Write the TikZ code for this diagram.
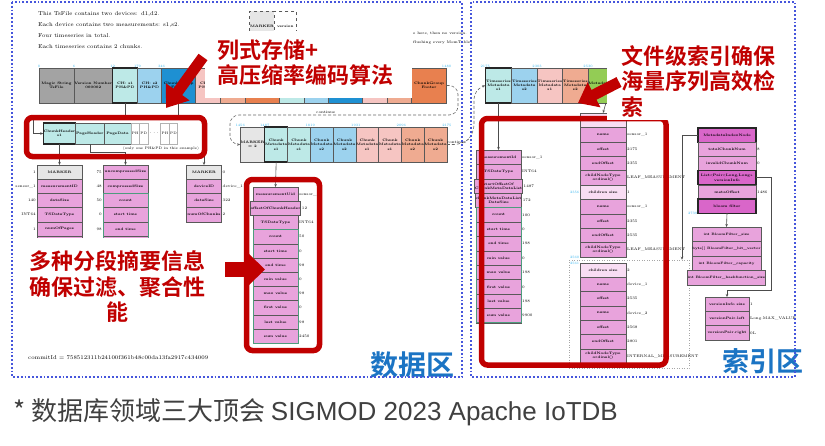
\documentclass[tikz,border=0pt]{standalone}
\usepackage{fontspec}
\newfontfamily\cjk{Noto Sans CJK SC}[BoldFont={Noto Sans CJK SC Bold}]
\newfontfamily\lsans{Liberation Sans}
\usepackage{tikz}
\usetikzlibrary{positioning,arrows.meta}

\definecolor{grayb}{HTML}{A3A3A3}
\definecolor{graylt}{HTML}{E6E6E6}
\definecolor{cyanlt}{HTML}{BDE9E7}
\definecolor{bluelt}{HTML}{9CD2EE}
\definecolor{bluedk}{HTML}{1E90D2}
\definecolor{pinklt}{HTML}{F6C5C2}
\definecolor{salmon}{HTML}{EFAB91}
\definecolor{orangeft}{HTML}{E8804F}
\definecolor{greenidx}{HTML}{93CC55}
\definecolor{orchid}{HTML}{E8A3DC}
\definecolor{orchiddk}{HTML}{D966C9}
\definecolor{orchidlt}{HTML}{F8DDF3}
\definecolor{statgreen}{HTML}{4E9C7E}
\definecolor{hlred}{HTML}{C00000}
\definecolor{zoneblue}{HTML}{1B74C4}
\definecolor{dotblue}{HTML}{4656DC}
\definecolor{ofscyan}{HTML}{33B5F0}

\begin{document}
\begin{tikzpicture}[x=1pt, y=-1pt,
        cell/.style={rectangle, draw=black!65, line width=0.6pt, inner sep=0.3pt, outer sep=0pt, align=center, font=\fontsize{3.5}{4.3}\selectfont\bfseries, minimum height=35pt},
        hot/.style={draw=black!85, line width=1.2pt},
        ghost/.style={cell, draw=black!30, minimum width=8.5pt, minimum height=21pt, font=\fontsize{3.5}{4}\selectfont},
        field/.style={cell, anchor=north, minimum height=14.2pt},
        plainrow/.style={fill=orchid},
        literow/.style={fill=orchidlt},
        darkrow/.style={fill=orchiddk, hot},
        markrow/.style={fill=graylt},
        val/.style={inner sep=1pt, font=\fontsize{3.8}{4.4}\selectfont},
        ofs/.style={inner sep=0.5pt, font=\fontsize{3.4}{4}\selectfont, text=ofscyan, anchor=south},
        link/.style={-{Stealth[length=3pt,width=2.5pt]}, draw=black!70, line width=0.6pt},
        flow/.style={draw=black!60, dash pattern=on 3pt off 2pt, line width=0.6pt, rounded corners=9pt, -{Stealth[length=3pt,width=2.5pt]}},
        stat/.style={draw=statgreen, line width=0.9pt},
        redframe/.style={draw=hlred, line width=5.5pt, rounded corners=6pt},
        redtag/.style={font=\cjk\bfseries\fontsize{22}{25.5}\selectfont, text=hlred, inner sep=0},
        zone/.style={font=\cjk\bfseries\fontsize{28}{30}\selectfont, text=zoneblue, inner sep=0},
        panel/.style={draw=dotblue, line width=1.8pt, dash pattern=on 1.8pt off 2pt}
    ]
    \useasboundingbox (0,0) rectangle (825,445);
    \fill[white] (0,0) rectangle (825,445);

    % data area: header text
    \node[anchor=north west, align=left, inner sep=0, font=\fontsize{5.6}{11}\selectfont] (desc) at (38,11.5) {This TsFile contains two devices: d1,d2.\\Each device contains two measurements: s1,s2.\\Four timeseries in total.\\Each timeseries contains 2 chunks.};
    \node[cell, dashed, fill=graylt, minimum width=22pt, minimum height=30pt] (vmark) at (262,26) {MARKER};
    \node[cell, dashed, minimum width=22pt, minimum height=30pt, right=0pt of vmark] (vver) {version};
    \node[val, anchor=west] (vnoteA) at (412,34) {e here, then no version.};
    \node[val, anchor=west] (vnoteB) at (412,43) {flushing every MemTable)};

    % data area: byte row
    \node[cell, fill=grayb, minimum width=35pt] (magic) at (56.5,85.5) {Magic String\\TsFile};
    \node[cell, fill=grayb, minimum width=35pt, right=0pt of magic] (vnum) {Version Number\\000002};
    \node[cell, hot, fill=cyanlt, minimum width=25pt, right=0pt of vnum] (chA) {CH: s1\\PH\&PD};
    \node[cell, fill=bluelt, minimum width=24pt, right=0pt of chA] (chB) {CH: s2\\PH\&PD};
    \node[cell, fill=bluedk, minimum width=34pt, right=0pt of chB] (cgfA) {ChunkGroup\\Footer};
    \node[cell, fill=pinklt, minimum width=25pt, right=0pt of cgfA] (chC) {CH: s1\\PH\&PD};
    \node[cell, fill=salmon, minimum width=25pt, right=0pt of chC] (chD) {};
    \node[cell, fill=orangeft, minimum width=34pt, right=0pt of chD] (cgfB) {};
    \node[cell, fill=cyanlt, minimum width=25pt, right=0pt of cgfB] (chE) {};
    \node[cell, fill=bluelt, minimum width=24pt, right=0pt of chE] (chF) {};
    \node[cell, fill=bluedk, minimum width=34pt, right=0pt of chF] (cgfC) {};
    \node[cell, fill=pinklt, minimum width=25pt, right=0pt of cgfC] (chG) {};
    \node[cell, fill=salmon, minimum width=24pt, right=0pt of chG] (chH) {};
    \node[cell, fill=orangeft, minimum width=35pt, right=0pt of chH] (cgfD) {ChunkGroup\\Footer};
    \node[ofs] (oA) at (magic.north west) {0};
    \node[ofs] (oB) at (vnum.north west) {6};
    \node[ofs] (oC) at (chA.north west) {12};
    \node[ofs] (oD) at (chB.north west) {179};
    \node[ofs] (oE) at (cgfA.north west) {346};
    \node[ofs] (oF) at (cgfD.north east) {1480};

    % data area: one chunk
    \node[cell, hot, fill=cyanlt, minimum width=27pt, minimum height=21pt] (chdr) at (59.5,133.5) {ChunkHeader\\s1};
    \node[cell, fill=cyanlt, minimum width=28pt, minimum height=21pt, right=0pt of chdr] (phdr) {PageHeader};
    \node[cell, fill=cyanlt, minimum width=27pt, minimum height=21pt, right=0pt of phdr] (pdat) {PageData};
    \node[ghost, right=0pt of pdat] (phA) {PH};
    \node[ghost, right=0pt of phA] (pdA) {PD};
    \node[inner sep=0, font=\fontsize{4}{4}\selectfont, right=1.5pt of pdA] (gap) {$\cdots$};
    \node[ghost, right=1.5pt of gap] (phB) {PH};
    \node[ghost, right=0pt of phB] (pdB) {PD};
    \node[val, font=\fontsize{3.6}{4}\selectfont] (only) at (161,148.5) {(only one PH\&PD in this example)};

    % data area: chunk header / page header / chunk group footer
    \foreach \lab/\val/\st [count=\i from 0] in {MARKER/1/markrow, measurementID/sensor\_1/plainrow, dataSize/140/plainrow, TSDataType/INT64/plainrow, numOfPages/1/plainrow, compressionType//plainrow} {
        \node[field, \st, minimum width=45pt] (ta\i) at (59.5,{165+14.2*\i}) {\lab};
        \node[val, anchor=east] (va\i) at (ta\i.west) {\val};
    }
    \foreach \lab/\val [count=\i from 0] in {uncompressedSize/75, compressedSize/48, count/50, start time/0, end time/98, min value/0} {
        \node[field, plainrow, minimum width=45pt] (tb\i) at (125.5,{165+14.2*\i}) {\lab};
        \node[val, anchor=east] (vb\i) at (tb\i.west) {\val};
    }
    \draw[stat] (tb2.north west) rectangle (tb5.south east);
    \foreach \lab/\val/\st [count=\i from 0] in {MARKER/0/markrow, deviceID/device\_1/plainrow, dataSize/322/plainrow, numOfChunks/2/plainrow} {
        \node[field, \st, minimum width=35pt] (tc\i) at (204,{165+14.2*\i}) {\lab};
        \node[val, anchor=west] (vc\i) at (tc\i.east) {\val};
    }
    \draw[link] (chA.south) |- (33,117) |- (chdr.west);
    \draw[link] (cgfA.south) |- (204,117) -- (tc0.north);
    \draw[link] (chdr.south) -- (ta0.north);
    \draw[link] (phdr.south) |- (125.5,152) -- (tb0.north);

    % data area: chunk metadata row
    \node[cell, fill=graylt, minimum width=23pt] (cm0) at (252.5,144.5) {MARKER\\= 2};
    \node[cell, hot, fill=cyanlt, minimum width=20.75pt, right=0pt of cm0] (cm1) {Chunk\\Metadata\\s1};
    \foreach \c/\s [count=\i from 2] in {cyanlt/s1, bluelt/s2, bluelt/s2, pinklt/s1, pinklt/s1, salmon/s2, salmon/s2} {
        \pgfmathtruncatemacro\j{\i-1}
        \node[cell, fill=\c, minimum width=20.75pt, right=0pt of cm\j] (cm\i) {Chunk\\Metadata\\\s};
    }
    \node[ofs] (oG) at (cm0.north west) {1456};
    \node[ofs] (oH) at (cm1.north west) {1487};
    \node[ofs] (oI) at (cm3.north west) {1819};
    \node[ofs] (oJ) at (cm5.north west) {1931};
    \node[ofs] (oK) at (cm7.north west) {2096};
    \node[ofs] (oL) at (cm8.north east) {2175};
    \draw[flow] (cgfD.east) -- (458,85.5) -- (458,115) -- node[val, above, pos=0.58] (contA) {continue} (230,115) -- (230,144.5) -- (cm0.west);
    \foreach \lab/\val [count=\i from 0] in {measurementUid/sensor\_1, offsetOfChunkHeader/12, TSDataType/INT64, count/50, start time/0, end time/98, min value/0, max value/98, first value/0, last value/98, sum value/2450} {
        \node[field, plainrow, minimum width=45pt] (td\i) at (275.5,{187+14.2*\i}) {\lab};
        \node[val, anchor=west] (vd\i) at (td\i.east) {\val};
    }
    \draw[stat] (td3.north west) rectangle (td10.south east);
    \draw[link] (cm1.south) -- (td0.north);

    % index area: timeseries metadata row
    \node[cell, hot, fill=cyanlt, minimum width=26.5pt] (tsm1) at (498.5,85.5) {Timeseries\\Metadata\\s1};
    \node[cell, fill=bluelt, minimum width=25pt, right=0pt of tsm1] (tsm2) {Timeseries\\Metadata\\s2};
    \node[cell, fill=pinklt, minimum width=25.5pt, right=0pt of tsm2] (tsm3) {Timeseries\\Metadata\\s1};
    \node[cell, fill=salmon, minimum width=25.5pt, right=0pt of tsm3] (tsm4) {Timeseries\\Metadata\\s2};
    \node[cell, fill=greenidx, minimum width=30pt, right=0pt of tsm4] (mnode) {MetadataIndex\\Node};
    \node[ofs] (oM) at (tsm1.north west) {2175};
    \node[ofs] (oN) at (tsm3.north west) {2303};
    \node[ofs] (oP) at (mnode.north west) {2530};
    \draw[flow] (cm8.east) -- node[val, above, pos=0.6] (contB) {continue} (463,144.5) -- (474,134) -- (474,90) -- (tsm1.west);

    \foreach \lab/\val [count=\i from 0] in {measurementId/sensor\_1, TSDataType/INT64, {startOffsetOf\\ChunkMetaDataList}/1487, {chunkMetaDataList\\DataSize}/172, count/100, start time/0, end time/198, min value/0, max value/198, first value/0, last value/198, sum value/9900} {
        \node[field, plainrow, minimum width=45pt, minimum height=14.4pt] (te\i) at (498.5,{150+14.4*\i}) {\lab};
        \node[val, anchor=west] (ve\i) at (te\i.east) {\val};
    }
    \draw[stat] (te4.north west) rectangle (te11.south east);
    \draw[link] (tsm1.south) -- (te0.north);

    \node[draw=black!35, dotted, line width=0.5pt, minimum width=120pt, minimum height=108pt, inner sep=0] (devnode) at (629,314) {};
    \foreach \lab/\val/\st [count=\i from 0] in {children size//literow, name/sensor\_1/plainrow, offset/2175/plainrow, endOffset/2355/plainrow, {childNodeType\\ordinal()}/LEAF\_MEASUREMENT/plainrow, children size/1/literow, name/sensor\_1/plainrow, offset/2355/plainrow, endOffset/2535/plainrow, {childNodeType\\ordinal()}/LEAF\_MEASUREMENT/plainrow} {
        \node[field, \st, minimum width=46pt, minimum height=14.4pt] (tf\i) at (603,{113+14.4*\i}) {\lab};
        \node[val, anchor=west] (vf\i) at (tf\i.east) {\val};
    }
    \foreach \lab/\val/\st [count=\i from 0] in {children size/2/literow, name/device\_1/plainrow, offset/2535/plainrow, name/device\_2/plainrow, offset/2568/plainrow, endOffset/2801/plainrow, {childNodeType\\ordinal()}/INTERNAL\_MEASUREMENT/plainrow} {
        \node[field, \st, minimum width=46pt, minimum height=14.3pt] (tk\i) at (603,{263+14.3*\i}) {\lab};
        \node[val, anchor=west] (vk\i) at (tk\i.east) {\val};
    }
    \node[ofs, anchor=east] (oQ) at (tf5.west) {2356};
    \node[ofs, anchor=east] (oR) at (tf9.south west) {2560};
    \node[ofs, anchor=east] (oS) at (tk0.north west) {2561};
    \draw[link] (mnode.south) -- (tf0.north);

    \foreach \lab/\val/\st [count=\i from 0] in {MetadataIndexNode//darkrow, totalChunkNum/8/plainrow, invalidChunkNum/0/plainrow, {List<Pair<Long,Long>>\\versionInfo}//darkrow, metaOffset/1486/plainrow, bloom filter//darkrow} {
        \node[field, \st, minimum width=58pt] (tg\i) at (727,{128+14.2*\i}) {\lab};
        \node[val, anchor=west] (vg\i) at (tg\i.east) {\val};
    }
    \node[ofs, anchor=east] (oT) at (tg5.south west) {2739};
    \foreach \lab [count=\i from 0] in {int BloomFilter\_size, {byte[\,] BloomFilter\_bit\_vector}, int BloomFilter\_capacity, int BloomFilter\_hashfunction\_size} {
        \node[field, plainrow, minimum width=69pt, minimum height=14.5pt, font=\fontsize{3.3}{4}\selectfont\bfseries] (th\i) at (726.5,{227+14.5*\i}) {\lab};
    }
    \foreach \lab/\val [count=\i from 0] in {versionInfo size/1, versionPair.left/Long.MAX\_VALUE, versionPair.right/0L} {
        \node[field, plainrow, minimum width=44pt, minimum height=14.3pt] (ti\i) at (727,{297+14.3*\i}) {\lab};
        \node[val, anchor=west] (vi\i) at (ti\i.east) {\val};
    }
    \draw[link] (tg5.south) -- (th0.north);
    \draw[link] (tg3.east) -| (771,290) -| (ti0.north);
    \draw[link] (tg0.west) -| ([xshift=53pt]devnode.north);

    % highlights
    \draw[redframe] (26.5,117.5) rectangle (204.5,156.5);
    \draw[redframe] (246.5,179.5) rectangle (319.5,350.5);
    \draw[redframe] (481.5,118.5) rectangle (666,365);
    \fill[white] (205,31) rectangle (412,98);
    \fill[white] (607,38) rectangle (792,120);
    \fill[white] (25,238) rectangle (215,328);
    \node[redtag, anchor=west, align=left] (tagA) at (217,62.5) {列式存储+\\高压缩率编码算法};
    \node[redtag, align=center] (tagB) at (117.5,286.5) {多种分段摘要信息\\确保过滤、聚合性\\能};
    \node[redtag, anchor=west, align=left] (tagC) at (621,81) {文件级索引确保\\海量序列高效检\\索};
    \draw[hlred, line width=11pt, -{Triangle[length=20pt,width=28pt]}] (203,57) -- (166,108);
    \draw[hlred, line width=15pt, -{Triangle[length=17pt,width=32pt]}] (225,269.5) -- (265,269.5);
    \draw[hlred, line width=11pt, -{Triangle[length=18pt,width=27pt]}] (619,82) -- (578,103);

    \node[anchor=west, inner sep=0, font=\fontsize{5.6}{6}\selectfont] (commit) at (28,358) {commitId = 758512311b24100f361b48c00da13fa2917c434009};
    \node[zone] (zoneA) at (412.5,364.5) {数据区};
    \node[zone, font=\cjk\bfseries\fontsize{27}{30}\selectfont] (zoneB) at (762.5,361.5) {索引区};

    \draw[panel] (12,2) rectangle (462,377);
    \draw[panel] (471,2) rectangle (795,377);
    \node[anchor=west, inner sep=0, font=\cjk\fontsize{26}{28}\selectfont, text=black!75] (note) at (13,412) {* 数据库领域三大顶会 {\lsans SIGMOD 2023 Apache IoTDB}};
\end{tikzpicture}
\end{document}
